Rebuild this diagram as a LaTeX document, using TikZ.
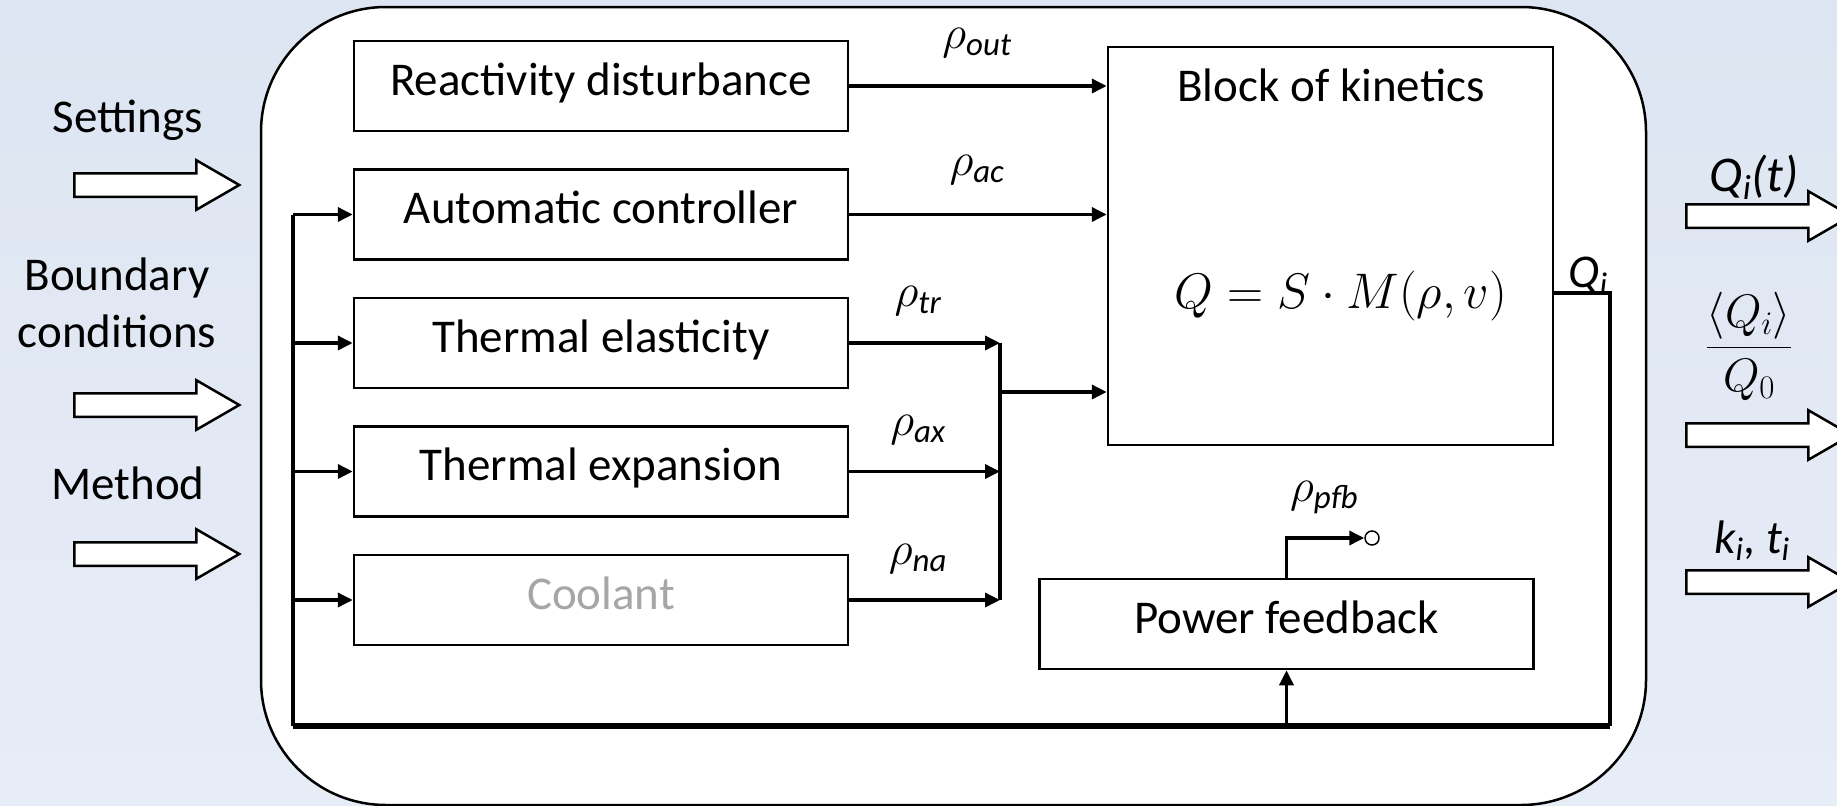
\RequirePackage{fix-cm}
\documentclass[tikz,border=0pt]{standalone}
\usepackage{amsmath}
\usepackage{fontspec}
\setmainfont{Carlito}
\usetikzlibrary{arrows.meta, positioning, shapes.arrows}

\definecolor{bgtop}{RGB}{221,229,242}
\definecolor{bgbot}{RGB}{231,237,247}
\definecolor{dimtext}{RGB}{166,166,166}

\begin{document}
\begin{tikzpicture}[
  x=1pt, y=-1pt,
  node distance=36pt,
  font=\fontsize{47}{57}\selectfont,
  block/.style={draw, line width=2.5pt, fill=white, minimum width=494pt, minimum height=90pt, inner sep=0pt,
    text height=35pt, text depth=17pt},
  sig/.style={-{Triangle[length=15pt, width=14pt]}, line width=3.5pt},
  bus/.style={line width=4pt},
  fat/.style={draw, line width=2.5pt, fill=white, single arrow, single arrow tip angle=60,
    single arrow head extend=13pt, inner sep=10.5pt, minimum height=165pt, anchor=tail},
  lbl/.style={inner sep=0pt}
]
\useasboundingbox (0,0) rectangle (1837,806);
\fill[top color=bgtop, bottom color=bgbot] (0,0) rectangle (1837,806);

% frame
\node[draw, line width=2.5pt, fill=white, rounded corners=125pt, minimum width=1385pt, minimum height=798pt] (frame) at (953.5,406) {};

% inputs and outputs
\node[fat] (inset) at (73,185) {};
\node[fat] (inbnd) at (73,405) {};
\node[fat] (inmth) at (73,554) {};
\node[lbl] (tset) at (128,120) {Settings};
\node[lbl, align=center] (tbnd) at (117,303) {Boundary\\conditions};
\node[lbl] (tmth) at (128,483) {Method};

\node[fat] (outq) at (1685,216) {};
\node[fat] (outm) at (1685,435) {};
\node[fat] (outk) at (1685,582) {};
\node[lbl] (tq) at (1754,177) {\fontsize{50}{60}\selectfont$\textit{Q}_{\textit{i}}\textit{(t)}$};
\node[lbl] (tm) at (1749,346) {$\dfrac{\langle Q_i\rangle}{Q_0}$};
\node[lbl] (tk) at (1752,541) {$\textit{k}_{\textit{i}}$, $\textit{t}_{\textit{i}}$};

% blocks
\node[block] (rd) at (601,86) {Reactivity disturbance};
\node[block, below=of rd] (ac) {Automatic controller};
\node[block, below=of ac] (te) {Thermal elasticity};
\node[block, below=of te] (tx) {Thermal expansion};
\node[block, below=of tx, text=dimtext] (cool) {Coolant};
\node[draw, line width=2.5pt, minimum width=445pt, minimum height=398pt] (kin) at (1330.5,246) {};
\node[lbl, anchor=base] (kintitle) at (1331,101) {Block of kinetics};
\node[lbl, anchor=base] (kinlaw) at (1341,308) {\fontsize{50}{60}\selectfont$Q = S\cdot M(\rho, v)$};
\node[block] (pf) at (1286.5,624) {Power feedback};
\node[circle, draw, line width=1.5pt, fill=white, inner sep=0pt, minimum size=14pt] (tap) at (1372,538) {};

% reactivity signals
\coordinate (jn) at (1000,392);
\draw[sig] (rd.east) -- (rd.east -| kin.west);
\draw[sig] (ac.east) -- (ac.east -| kin.west);
\foreach \b in {te, tx, cool}
  \draw[sig] (\b.east) -- (\b.east -| jn);
\draw[line width=3.5pt] (te.east -| jn) -- (cool.east -| jn);
\draw[sig] (jn) -- (jn -| kin.west);
\node[lbl] (rout) at (977,43) {$\rho_{\textit{out}}$};
\node[lbl] (rac) at (977,170) {$\rho_{\textit{ac}}$};
\node[lbl] (rtr) at (918,301) {$\rho_{\textit{tr}}$};
\node[lbl] (rax) at (918,430) {$\rho_{\textit{ax}}$};
\node[lbl] (rna) at (918,559) {$\rho_{\textit{na}}$};

% power loop
\coordinate (busL) at (293,726);
\coordinate (busR) at (1610,726);
\coordinate (qout) at (1610,293);
\draw[line width=3.5pt] (qout -| kin.east) -- (qout) -- (busR);
\draw[line width=6pt] (busL) -- (busR);
\draw[bus] (ac.west -| busL) -- (busL);
\foreach \b in {ac, te, tx, cool}
  \draw[sig] (\b.west -| busL) -- (\b.west);
\draw[sig] (busL -| pf) -- (pf.south);
\draw[sig] (pf.north) |- (tap.west);
\node[lbl] (tqi) at (1588,276) {$\textit{Q}_{\textit{i}}$};
\node[lbl] (rpfb) at (1324,498) {$\rho_{\textit{pfb}}$};

\end{tikzpicture}
\end{document}
